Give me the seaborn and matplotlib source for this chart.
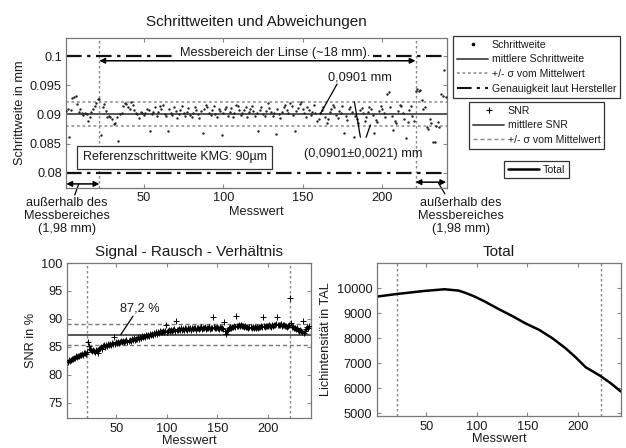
import numpy as np
import pandas as pd
import matplotlib
matplotlib.use("Agg")
import matplotlib.pyplot as plt
import seaborn as sns
from matplotlib.lines import Line2D

# ---------------- data ----------------
STEP_X = list(range(1, 241))
STEP_MM = [
    0.0906, 0.0909, 0.0862, 0.0908, 0.0929, 0.0930, 0.0931, 0.0918, 0.0905, 0.0909,
    0.0903, 0.0899, 0.0902, 0.0901, 0.0889, 0.0895, 0.0904, 0.0909, 0.0915, 0.0920,
    0.0927, 0.0926, 0.0864, 0.0912, 0.0918, 0.0906, 0.0896, 0.0898, 0.0895, 0.0893,
    0.0884, 0.0886, 0.0896, 0.0855, 0.0901, 0.0902, 0.0915, 0.0920, 0.0918, 0.0912,
    0.0909, 0.0921, 0.0917, 0.0908, 0.0903, 0.0901, 0.0894, 0.0905, 0.0902, 0.0899,
    0.0903, 0.0910, 0.0907, 0.0872, 0.0900, 0.0905, 0.0912, 0.0898, 0.0904, 0.0914,
    0.0909, 0.0916, 0.0901, 0.0898, 0.0872, 0.0910, 0.0903, 0.0899, 0.0912, 0.0906,
    0.0894, 0.0901, 0.0908, 0.0915, 0.0903, 0.0897, 0.0905, 0.0911, 0.0899, 0.0895,
    0.0902, 0.0913, 0.0908, 0.0900, 0.0894, 0.0906, 0.0868, 0.0910, 0.0917, 0.0912,
    0.0903, 0.0899, 0.0908, 0.0915, 0.0901, 0.0896, 0.0910, 0.0906, 0.0865, 0.0902,
    0.0909, 0.0913, 0.0898, 0.0905, 0.0911, 0.0896, 0.0903, 0.0917, 0.0914, 0.0907,
    0.0899, 0.0902, 0.0908, 0.0912, 0.0895, 0.0904, 0.0910, 0.0915, 0.0906, 0.0897,
    0.0903, 0.0872, 0.0908, 0.0913, 0.0901, 0.0898, 0.0906, 0.0919, 0.0911, 0.0904,
    0.0898, 0.0903, 0.0867, 0.0909, 0.0900, 0.0894, 0.0905, 0.0912, 0.0917, 0.0908,
    0.0902, 0.0920, 0.0915, 0.0899, 0.0872, 0.0906, 0.0911, 0.0918, 0.0921, 0.0910,
    0.0903, 0.0896, 0.0912, 0.0907, 0.0899, 0.0905, 0.0916, 0.0902, 0.0888, 0.0893,
    0.0902, 0.0908, 0.0913, 0.0895, 0.0886, 0.0892, 0.0905, 0.0910, 0.0917, 0.0912,
    0.0899, 0.0894, 0.0906, 0.0903, 0.0915, 0.0868, 0.0897, 0.0890, 0.0909, 0.0913,
    0.0904, 0.0861, 0.0898, 0.0893, 0.0885, 0.0907, 0.0911, 0.0902, 0.0889, 0.0895,
    0.0904, 0.0913, 0.0909, 0.0899, 0.0868, 0.0890, 0.0887, 0.0906, 0.0915, 0.0910,
    0.0902, 0.0896, 0.0935, 0.0938, 0.0912, 0.0898, 0.0873, 0.0889, 0.0885, 0.0906,
    0.0917, 0.0914, 0.0903, 0.0893, 0.0860, 0.0887, 0.0908, 0.0915, 0.0897, 0.0889,
    0.0941, 0.0943, 0.0940, 0.0942, 0.0924, 0.0910, 0.0913, 0.0878, 0.0875, 0.0892,
    0.0885, 0.0853, 0.0852, 0.0880, 0.0887, 0.0879, 0.0935, 0.0932, 0.0976, 0.0930,
]
STEP_MEAN = 0.0901
STEP_SD = 0.0021
SPEC_LIMITS = [0.08, 0.10]
RANGE_BOUNDS = [22, 221]

SNR_X = list(range(2, 242))
SNR_PCT = [
    82.3, 82.6, 82.4, 82.7, 82.9, 82.8, 83.1, 83.0, 83.3, 83.2,
    83.4, 83.3, 83.6, 83.5, 83.8, 83.6, 83.9, 84.0, 83.8, 84.1,
    85.8, 85.2, 84.6, 84.4, 84.2, 84.5, 84.3, 84.1, 84.4, 84.2,
    84.0, 84.6, 84.8, 85.0, 84.7, 85.1, 85.3, 85.0, 85.4, 85.2,
    85.5, 85.3, 85.6, 85.4, 85.7, 85.5, 86.8, 85.6, 85.8, 85.7,
    85.9, 85.7, 85.8, 86.0, 85.8, 86.1, 85.9, 86.0, 86.2, 85.9,
    86.1, 86.3, 86.0, 86.4, 86.2, 86.6, 86.3, 86.5, 86.4, 86.7,
    86.5, 86.8, 86.6, 86.9, 86.7, 87.0, 86.8, 87.1, 86.9, 87.2,
    87.0, 87.3, 87.1, 87.4, 87.2, 87.5, 87.3, 87.6, 87.4, 87.7,
    87.5, 87.8, 87.6, 87.7, 87.9, 87.6, 87.8, 89.0, 87.7, 87.9,
    88.0, 87.8, 88.1, 87.9, 88.0, 88.2, 87.9, 89.7, 88.1, 88.0,
    88.2, 88.0, 88.3, 88.1, 88.2, 88.0, 88.3, 88.2, 88.1, 88.3,
    88.2, 88.4, 88.1, 88.3, 88.2, 88.4, 88.3, 88.1, 88.3, 88.4,
    88.2, 88.3, 88.5, 88.2, 88.4, 88.3, 88.5, 88.2, 88.4, 88.3,
    88.5, 88.2, 88.4, 88.3, 90.3, 88.5, 88.4, 88.3, 88.5, 88.4,
    88.2, 88.5, 88.3, 88.4, 88.2, 89.4, 87.9, 87.4, 87.8, 88.0,
    88.3, 88.5, 88.4, 88.6, 88.5, 88.7, 88.6, 90.6, 88.8, 88.7,
    88.9, 88.8, 88.9, 88.7, 88.8, 88.6, 88.7, 88.5, 88.6, 88.4,
    88.6, 88.5, 88.3, 88.5, 88.4, 88.6, 88.3, 88.5, 88.4, 88.6,
    88.5, 88.7, 88.6, 90.4, 88.8, 88.5, 88.7, 88.8, 88.7, 88.9,
    88.8, 88.6, 88.9, 88.8, 89.0, 88.9, 89.1, 90.4, 88.9, 89.0,
    88.9, 89.1, 88.8, 89.0, 88.9, 88.7, 88.8, 88.6, 88.7, 88.9,
    93.8, 89.3, 88.5, 88.6, 88.3, 88.4, 88.2, 88.3, 88.0, 87.9,
    88.1, 87.8, 87.7, 89.7, 87.5, 87.9, 88.2, 88.6, 88.4, 88.7,
]
SNR_MEAN = 87.2
SNR_SD = 1.9
SNR_BOUNDS = [21, 222]

TOTAL_X = [1, 21, 48, 68, 82, 88, 98, 108, 122, 135, 148, 162, 175, 188, 198, 208, 222, 232, 243]
TOTAL_TAL = [9667, 9772, 9892, 9960, 9906, 9826, 9666, 9466, 9160, 8892, 8600,
             8332, 8000, 7600, 7240, 6840, 6506, 6226, 5866]
TOTAL_BOUNDS = [21, 223]

X_TICKS = [50, 100, 150, 200]
STEP_YTICKS = [0.08, 0.085, 0.09, 0.095, 0.1]
STEP_YTICKLABELS = ["0.08", "0.085", "0.09", "0.095", "0.1"]
SNR_YTICKS = [75, 80, 85, 90, 95, 100]
TOTAL_YTICKS = [5000, 6000, 7000, 8000, 9000, 10000]

# ---------------- style ----------------
sns.set_style("ticks")
plt.rcParams["font.family"] = ["Liberation Sans", "DejaVu Sans"]
plt.rcParams.update({
    "xtick.direction": "in", "ytick.direction": "in",
    "xtick.top": True, "ytick.right": True,
    "xtick.major.size": 3, "ytick.major.size": 3,
    "xtick.color": "#888888", "ytick.color": "#888888",
    "xtick.labelcolor": "#1a1a1a", "ytick.labelcolor": "#1a1a1a",
    "axes.edgecolor": "#777777", "axes.linewidth": 0.9,
    "font.size": 9, "xtick.labelsize": 9.2, "ytick.labelsize": 9.2,
    "axes.labelsize": 9.2, "text.color": "#1a1a1a", "axes.labelcolor": "#1a1a1a",
})

W, H = 626, 448
fig = plt.figure(figsize=(W / 100, H / 100), dpi=100)


def ax_at(l, t, r, b):
    return fig.add_axes([l / W, 1 - b / H, (r - l) / W, (b - t) / H])


GRAY_DOT = (0, (1.8, 1.8))
MEAN_C = "#555555"
SD_C = "#888888"
DASHDOT = (0, (7, 2.5, 1.5, 2.5))

# ---------------- top panel ----------------
ax = ax_at(66, 38, 446.5, 188)
df_step = pd.DataFrame({"Messwert": STEP_X, "Schrittweite": STEP_MM})
sns.scatterplot(data=df_step, x="Messwert", y="Schrittweite", ax=ax, color="#222222",
                s=3, marker="o", linewidth=0, zorder=3)
ax.axhline(STEP_MEAN, color=MEAN_C, lw=1.4, zorder=2)
for v in (STEP_MEAN + STEP_SD, STEP_MEAN - STEP_SD):
    ax.axhline(v, color=SD_C, lw=1.1, ls=GRAY_DOT, zorder=2)
for v in SPEC_LIMITS:
    ax.axhline(v, color="#111111", lw=1.6, ls=DASHDOT, zorder=2)
for v in RANGE_BOUNDS:
    ax.axvline(v, color=SD_C, lw=1.0, ls=GRAY_DOT, zorder=1)
ax.set_xlim(1, 240.5)
ax.set_ylim(0.0774, 0.1031)
ax.set_xticks(X_TICKS)
ax.set_yticks(STEP_YTICKS)
ax.set_yticklabels(STEP_YTICKLABELS)
ax.set_xlabel("Messwert", labelpad=1)
ax.set_ylabel("Schrittweite in mm", labelpad=3)
ax.tick_params(pad=3)

ax.text(132.5, 0.1006, "Messbereich der Linse (~18 mm).", ha="center", va="center",
        fontsize=9.2, zorder=5,
        bbox=dict(facecolor="white", edgecolor="none", pad=2))
ax.annotate("", xy=(RANGE_BOUNDS[0], 0.0992), xytext=(RANGE_BOUNDS[1], 0.0992),
            arrowprops=dict(arrowstyle="<|-|>", color="black", lw=1.1,
                            mutation_scale=8, shrinkA=0, shrinkB=0), zorder=6)
ax.text(186.3, 0.0964, "0,0901 mm", ha="center", va="center", fontsize=9.2, zorder=5)
ax.plot([171.6, 161.1], [0.0952, STEP_MEAN], color="black", lw=0.9, zorder=6)
ax.text(187.8, 0.0832, "(0,0901\u00b10,0021) mm", ha="center", va="center",
        fontsize=9.2, zorder=5)
ax.plot([182.5, 186.3], [STEP_MEAN + STEP_SD, 0.0861], color="black", lw=0.9, zorder=6)
ax.plot([189.9, 192.6], [0.0861, 0.0882], color="black", lw=0.9, zorder=6)
ax.text(69.5, 0.0827, "Referenzschrittweite KMG: 90\u00b5m", ha="center", va="center",
        fontsize=9.0, zorder=5,
        bbox=dict(facecolor="white", edgecolor="#333333", lw=0.9, pad=4))
# out-of-range arrows
ax.annotate("", xy=(1.2, 0.0781), xytext=(RANGE_BOUNDS[0], 0.0781),
            arrowprops=dict(arrowstyle="<|-|>", color="black", lw=1.1,
                            mutation_scale=8, shrinkA=0, shrinkB=0), zorder=6)
ax.plot([9.0, 6.5], [0.0781, 0.0762], color="black", lw=0.9, clip_on=False)
ax.annotate("", xy=(RANGE_BOUNDS[1], 0.0784), xytext=(240.3, 0.0784),
            arrowprops=dict(arrowstyle="<|-|>", color="black", lw=1.1,
                            mutation_scale=8, shrinkA=0, shrinkB=0), zorder=6)
ax.plot([235.3, 239.5], [0.0783, 0.0764], color="black", lw=0.9, clip_on=False)

fig.text(256 / W, 1 - 22 / H, "Schrittweiten und Abweichungen", ha="center", va="center",
         fontsize=11)
for xc in (67, 461):
    fig.text(xc / W, 1 - 216 / H, "au\u00dferhalb des\nMessbereiches\n(1,98 mm)",
             ha="center", va="center", fontsize=9.2, linespacing=1.15)

# ---------------- legends ----------------
h1 = [
    Line2D([], [], marker="o", markersize=1.6, ls="None", color="black"),
    Line2D([], [], color=MEAN_C, lw=1.4),
    Line2D([], [], color=SD_C, lw=1.1, ls=GRAY_DOT),
    Line2D([], [], color="#111111", lw=1.5, ls=DASHDOT),
]
l1 = ["Schrittweite", "mittlere Schrittweite", "+/- \u03c3 vom Mittelwert",
      "Genauigkeit laut Hersteller"]
h2 = [
    Line2D([], [], marker="+", markersize=4, ls="None", color="black", mew=0.8),
    Line2D([], [], color=MEAN_C, lw=1.4),
    Line2D([], [], color=SD_C, lw=1.0, ls=(0, (3, 2))),
]
l2 = ["SNR", "mittlere SNR", "+/- \u03c3 vom Mittelwert"]
h3 = [Line2D([], [], color="black", lw=1.8)]
l3 = ["Total"]

leg_kw = dict(loc="upper left", frameon=True, fancybox=False, fontsize=7.6,
              handlelength=3.0, handletextpad=0.3, labelspacing=0.45,
              borderpad=0.35, borderaxespad=0, edgecolor="#333333", framealpha=1)
for hs, ls_, (lx, ty) in ((h1, l1, (453, 36)), (h2, l2, (469, 102)), (h3, l3, (504, 161))):
    lg = fig.legend(hs, ls_, bbox_to_anchor=(lx / W, 1 - ty / H), **leg_kw)
    lg.get_frame().set_linewidth(0.9)

# ---------------- SNR panel ----------------
ax2 = ax_at(67, 263, 311, 418)
df_snr = pd.DataFrame({"Messwert": SNR_X, "SNR": SNR_PCT})
sns.scatterplot(data=df_snr, x="Messwert", y="SNR", ax=ax2, color="black", marker="+",
                s=14, linewidth=0.7, zorder=3)
ax2.axhline(SNR_MEAN, color=MEAN_C, lw=1.4, zorder=2)
for v in (SNR_MEAN + SNR_SD, SNR_MEAN - SNR_SD):
    ax2.axhline(v, color="#777777", lw=1.0, ls=(0, (3, 2)), zorder=2)
for v in SNR_BOUNDS:
    ax2.axvline(v, color=SD_C, lw=1.0, ls=GRAY_DOT, zorder=1)
ax2.set_xlim(1, 243)
ax2.set_ylim(72.3, 100)
ax2.set_xticks(X_TICKS)
ax2.set_yticks(SNR_YTICKS)
ax2.set_xlabel("Messwert", labelpad=0)
ax2.set_ylabel("SNR in %", labelpad=3)
ax2.set_title("Signal - Rausch - Verh\u00e4ltnis", fontsize=11, pad=5)
ax2.text(73.4, 91.9, "87,2 %", ha="center", va="center", fontsize=9.2)
ax2.plot([66.5, 54.3], [90.5, SNR_MEAN], color="black", lw=0.9)

# ---------------- Total panel ----------------
ax3 = ax_at(377, 263, 621, 416)
df_tot = pd.DataFrame({"Messwert": TOTAL_X, "Total": TOTAL_TAL})
sns.lineplot(data=df_tot, x="Messwert", y="Total", ax=ax3, color="black", lw=1.8)
for v in TOTAL_BOUNDS:
    ax3.axvline(v, color=SD_C, lw=1.0, ls=GRAY_DOT, zorder=1)
ax3.set_xlim(1, 243)
ax3.set_ylim(4890, 11010)
ax3.set_xticks(X_TICKS)
ax3.set_yticks(TOTAL_YTICKS)
ax3.set_xlabel("Messwert", labelpad=0)
ax3.set_ylabel("Lichintensit\u00e4t in TAL", labelpad=3)
ax3.set_title("Total", fontsize=11, pad=5)

fig.savefig("out.png", dpi=100)
